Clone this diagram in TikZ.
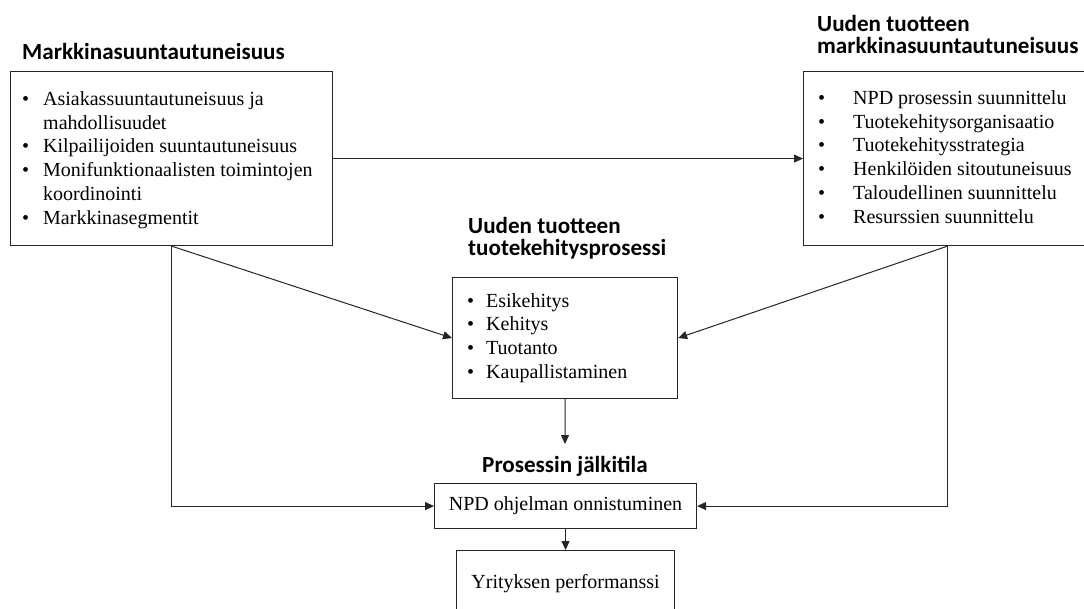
\documentclass[tikz,border=0pt]{standalone}
\usepackage{fontspec}
\setmainfont{Liberation Serif}
\newfontfamily\headfont{Carlito}
\usetikzlibrary{arrows.meta}
\begin{document}
\begin{tikzpicture}[x=1pt,y=-1pt,
  box/.style={draw=black!85, line width=1.1pt, inner sep=0pt, anchor=north west},
  list/.style={inner sep=0pt, anchor=west, font=\fontsize{20}{23.8}\selectfont},
  plain/.style={inner sep=0pt, font=\fontsize{20}{23.8}\selectfont},
  head/.style={inner sep=0pt, anchor=base west, font=\headfont\bfseries\fontsize{23.1}{22}\selectfont},
  conn/.style={draw=black!85, line width=1pt, -{Triangle[length=9pt,width=8pt]}},
]
\useasboundingbox (0,0) rectangle (1084,608);
\clip (0,0) rectangle (1084,608);
\fill[white] (0,0) rectangle (1084,608);

% headings
\node[head] (h1) at (22,59) {Markkinasuuntautuneisuus};
\node[head] (h2a) at (817,31) {Uuden tuotteen};
\node[head] (h2b) at (817,53) {markkinasuuntautuneisuus};
\node[head] (h3a) at (468,233) {Uuden tuotteen};
\node[head] (h3b) at (468,255) {tuotekehitysprosessi};
\node[head, anchor=base] (h4) at (565,472) {Prosessin jälkitila};

% boxes
\node[box, minimum width=322pt, minimum height=174pt] (mo) at (10,71) {};
\node[box, minimum width=288pt, minimum height=174pt] (uo) at (803,71) {};
\node[box, minimum width=225pt, minimum height=121pt] (tp) at (452,277) {};
\node[box, minimum width=262pt, minimum height=45pt] (npd) at (434,483) {};
\node[box, minimum width=218pt, minimum height=66pt] (yp) at (456,550) {};

% box contents
\node[list] (mol) at (22,160) {\begin{tabular}{@{}p{21pt}@{}l@{}}
\textbullet & Asiakassuuntautuneisuus ja\\
 & mahdollisuudet\\
\textbullet & Kilpailijoiden suuntautuneisuus\\
\textbullet & Monifunktionaalisten toimintojen\\
 & koordinointi\\
\textbullet & Markkinasegmentit
\end{tabular}};
\node[list] (uol) at (818,159) {\begin{tabular}{@{}p{35pt}@{}l@{}}
\textbullet & NPD prosessin suunnittelu\\
\textbullet & Tuotekehitysorganisaatio\\
\textbullet & Tuotekehitysstrategia\\
\textbullet & Henkilöiden sitoutuneisuus\\
\textbullet & Taloudellinen suunnittelu\\
\textbullet & Resurssien suunnittelu
\end{tabular}};
\node[list] (tpl) at (467,338) {\begin{tabular}{@{}p{19pt}@{}l@{}}
\textbullet & Esikehitys\\
\textbullet & Kehitys\\
\textbullet & Tuotanto\\
\textbullet & Kaupallistaminen
\end{tabular}};
\node[plain] (npdl) at (npd.center) {NPD ohjelman onnistuminen};
\node[plain] (ypl) at (yp.center) {Yrityksen performanssi};

% free end of the arrow leaving the process box
\coordinate (tpend) at (565,444);

% connectors
\draw[conn] (mo.east) -- (uo.west);
\draw[conn] (mo.south) -- (tp.west);
\draw[conn] (mo.south) |- (npd.west);
\draw[conn] (uo.south) -- (tp.east);
\draw[conn] (uo.south) |- (npd.east);
\draw[conn] (tp.south) -- (tpend);
\draw[conn] (npd.south) -- (yp.north);
\end{tikzpicture}
\end{document}
